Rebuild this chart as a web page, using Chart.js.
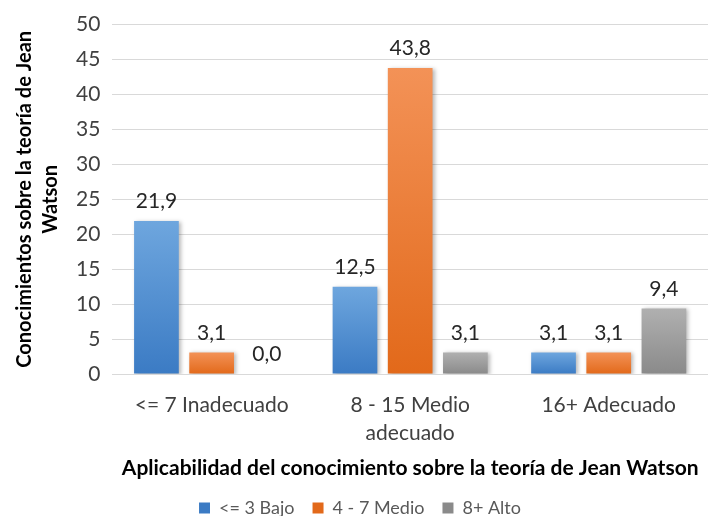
<!DOCTYPE html>
<html>
<head>
<meta charset="utf-8">
<script src="https://cdn.jsdelivr.net/npm/chart.js@4"></script>
<style>
  html, body { margin: 0; padding: 0; background: #fff; }
  #wrap { width: 708px; height: 516px; }
</style>
</head>
<body>
<div id="wrap"><canvas id="c" width="708" height="516"></canvas></div>
<script>
// Categories, series and tick labels
var categories = [['<= 7 Inadecuado'], ['8 - 15 Medio', 'adecuado'], ['16+ Adecuado']];
var bajo = [21.9, 12.5, 3.1];
var medio = [3.1, 43.8, 3.1];
var alto = [0.0, 3.1, 9.4];
var seriesNames = ['<= 3 Bajo', '4 - 7 Medio', '8+ Alto'];
var yTitle = ['Conocimientos sobre la teoría de Jean', 'Watson'];
var xTitle = 'Aplicabilidad del conocimiento sobre la teoría de Jean Watson';

var FONT = 'Lato, "Open Sans", sans-serif';

// top colour, bottom colour for each series
var shades = [
  ['#6ea6de', '#3b7bc4'],
  ['#f39257', '#e2691a'],
  ['#b0b0b0', '#8a8a8a']
];

function barFill(idx) {
  return function (ctx) {
    var chart = ctx.chart;
    var y = chart.scales && chart.scales.y;
    if (!y || ctx.type !== 'data') return shades[idx][1];
    var top = y.getPixelForValue(ctx.raw);
    var base = y.getPixelForValue(0);
    if (base - top < 1) return shades[idx][1];
    var g = chart.ctx.createLinearGradient(0, top, 0, base);
    g.addColorStop(0, shades[idx][0]);
    g.addColorStop(1, shades[idx][1]);
    return g;
  };
}

var shadowAndLabels = {
  id: 'shadowAndLabels',
  beforeDatasetsDraw: function (chart) {
    var ctx = chart.ctx;
    ctx.save();
    ctx.shadowColor = 'rgba(0,0,0,0.28)';
    ctx.shadowBlur = 4;
    ctx.shadowOffsetX = 2;
    ctx.shadowOffsetY = 1;
  },
  afterDatasetsDraw: function (chart) {
    var ctx = chart.ctx;
    ctx.restore();
    ctx.save();
    ctx.font = '21px ' + FONT;
    ctx.fillStyle = '#262626';
    ctx.textAlign = 'center';
    ctx.textBaseline = 'bottom';
    chart.data.datasets.forEach(function (ds, di) {
      chart.getDatasetMeta(di).data.forEach(function (bar, i) {
        var v = ds.data[i];
        ctx.fillText(v.toFixed(1).replace('.', ','), bar.x, bar.y - 9);
      });
    });
    ctx.restore();
  }
};

new Chart(document.getElementById('c').getContext('2d'), {
  type: 'bar',
  data: {
    labels: categories,
    datasets: [
      { label: seriesNames[0], data: bajo, backgroundColor: barFill(0) },
      { label: seriesNames[1], data: medio, backgroundColor: barFill(1) },
      { label: seriesNames[2], data: alto, backgroundColor: barFill(2) }
    ]
  },
  options: {
    responsive: false,
    animation: false,
    devicePixelRatio: 1,
    layout: { padding: { left: 12, right: 0, top: 10, bottom: -11 } },
    datasets: { bar: { categoryPercentage: 0.834, barPercentage: 0.81 } },
    plugins: {
      tooltip: { enabled: false },
      legend: {
        position: 'bottom',
        labels: {
          boxWidth: 11,
          boxHeight: 11,
          padding: 18,
          color: '#595959',
          font: { family: FONT, size: 18 },
          generateLabels: function (chart) {
            return chart.data.datasets.map(function (ds, i) {
              return {
                text: ds.label,
                fillStyle: shades[i][1],
                strokeStyle: shades[i][1],
                lineWidth: 0,
                datasetIndex: i,
                fontColor: '#595959'
              };
            });
          }
        }
      }
    },
    scales: {
      x: {
        grid: { display: false },
        border: { color: '#d9d9d9', width: 1 },
        ticks: { color: '#404040', font: { family: FONT, size: 21, lineHeight: 1.35 }, maxRotation: 0, padding: 9 },
        title: {
          display: true,
          text: xTitle,
          color: '#000',
          font: { family: FONT, size: 21, weight: 'bold' },
          padding: { top: -1, bottom: 0 }
        }
      },
      y: {
        min: 0,
        max: 50,
        ticks: { stepSize: 5, color: '#404040', font: { family: FONT, size: 21 }, padding: 12 },
        grid: { color: '#d9d9d9', lineWidth: 1, drawTicks: false },
        border: { display: false },
        title: {
          display: true,
          text: yTitle,
          color: '#000',
          font: { family: FONT, size: 20, weight: 'bold', lineHeight: 1.3 },
          padding: { top: 0, bottom: 0 }
        }
      }
    }
  },
  plugins: [shadowAndLabels]
});
</script>
</body>
</html>
